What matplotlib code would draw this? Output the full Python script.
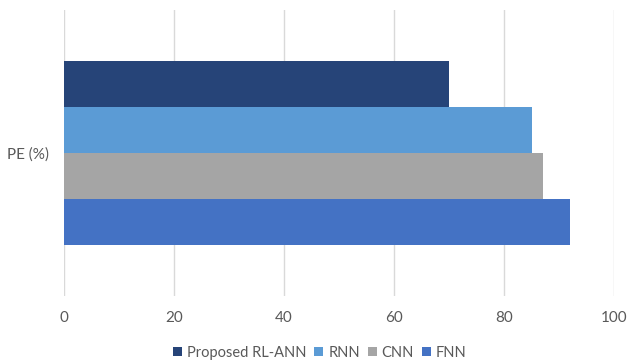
import matplotlib

matplotlib.use("Agg")
import matplotlib.pyplot as plt
import numpy as np

category = "PE (%)"
models = ["Proposed RL-ANN", "RNN", "CNN", "FNN"]
values = [70, 85.2, 87.1, 92]
colors = ["#264478", "#5B9BD5", "#A5A5A5", "#4472C4"]

plt.rcParams["font.family"] = ["Lato", "DejaVu Sans"]
text_color = "#595959"

fig = plt.figure(figsize=(6.27, 3.64), dpi=100)
ax = fig.add_axes([0.102, 0.187, 0.877, 0.786])

h = 0.161
offsets = (np.arange(len(models))[::-1] - (len(models) - 1) / 2) * h
for name, v, c, off in zip(models, values, colors, offsets):
    ax.barh(off, v, height=h, color=c, label=name)

ax.set_xlim(0, 100)
ax.set_ylim(-0.5, 0.5)
ax.set_xticks(range(0, 101, 20))
ax.set_yticks([0])
ax.set_yticklabels([category])
ax.xaxis.grid(True, color="#D9D9D9", lw=1)
ax.set_axisbelow(True)
for s in ax.spines.values():
    s.set_visible(False)
ax.tick_params(axis="both", length=0, labelsize=11, colors=text_color)
ax.tick_params(axis="y", pad=11)
ax.tick_params(axis="x", pad=11)

leg = fig.legend(loc="lower center", bbox_to_anchor=(0.51, -0.025), ncol=4, frameon=False,
                 fontsize=10.5, handlelength=0.6, handleheight=0.6, handletextpad=0.35,
                 columnspacing=0.55)
for t in leg.get_texts():
    t.set_color(text_color)

fig.savefig("out.png", dpi=100)
